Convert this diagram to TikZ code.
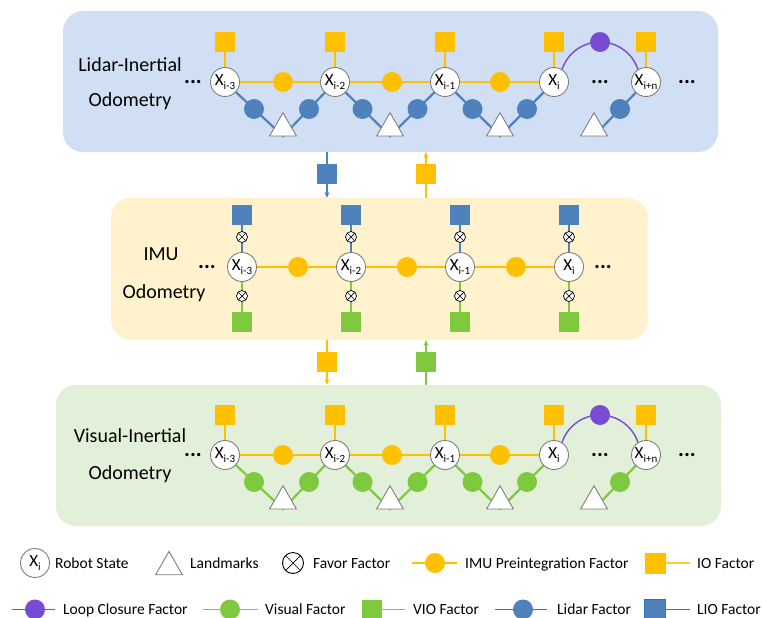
\documentclass[tikz,border=0pt]{standalone}
\usepackage{fontspec}
\setmainfont{Carlito}
\usetikzlibrary{arrows.meta,shapes.geometric,calc}
\pgfdeclarelayer{panels}
\pgfdeclarelayer{edges}
\pgfsetlayers{panels,edges,main}

\definecolor{panelblue}{HTML}{D0DFF3}
\definecolor{panelyellow}{HTML}{FFF2CC}
\definecolor{panelgreen}{HTML}{E2F0D9}
\definecolor{imuyellow}{HTML}{FFC000}
\definecolor{lidarblue}{HTML}{4F81BD}
\definecolor{legendblue}{HTML}{2E75B6}
\definecolor{visualgreen}{HTML}{7FC93F}
\definecolor{loopviolet}{HTML}{774CD2}
\definecolor{stategray}{HTML}{7F7F7F}

% robot state label X_<index>
\newcommand\statelabel[1]{{\fontsize{17}{17}\selectfont X}\raisebox{-4pt}{\fontsize{11}{11}\selectfont #1}}

\begin{document}
\begin{tikzpicture}[x=1pt,y=-1pt,
  panel/.style={rectangle, rounded corners=20pt, inner sep=0pt, outer sep=0pt},
  state/.style={circle, draw=stategray, fill=white, line width=0.9pt, minimum size=29pt, inner sep=0pt},
  factor/.style={circle, minimum size=20pt, inner sep=0pt},
  sqfactor/.style={rectangle, minimum size=20pt, inner sep=0pt},
  imu/.style={factor, fill=imuyellow},
  io/.style={sqfactor, fill=imuyellow},
  lio/.style={sqfactor, fill=lidarblue},
  vio/.style={sqfactor, fill=visualgreen},
  loopf/.style={factor, fill=loopviolet},
  landmark/.style={regular polygon, regular polygon sides=3, draw=stategray, fill=white, line width=0.9pt, minimum size=31pt, inner sep=0pt},
  favor/.style={circle, draw=black, fill=white, line width=0.7pt, minimum size=11pt, inner sep=0pt,
    path picture={\draw[line width=0.7pt] (path picture bounding box.north west) -- (path picture bounding box.south east)
      (path picture bounding box.north east) -- (path picture bounding box.south west);}},
  edge/.style={line width=2.2pt},
  loopline/.style={line width=1.4pt, loopviolet},
  legline/.style={line width=1.8pt},
  flow/.style={line width=1.3pt, -{Stealth[length=6pt,width=5pt]}},
  dots/.style={font=\fontsize{22}{22}\selectfont\bfseries, inner sep=0pt},
  lbl/.style={font=\fontsize{20}{24}\selectfont, inner sep=0pt},
  leg/.style={font=\fontsize{15.5}{18}\selectfont, anchor=base west, inner sep=0pt}]
\useasboundingbox (0,0) rectangle (763,618);

% ---------- background panels ----------
\begin{pgfonlayer}{panels}
  \node[panel, fill=panelblue, minimum width=655pt, minimum height=141pt] (LIO) at (390.5,81.5) {};
  \node[panel, fill=panelyellow, minimum width=537pt, minimum height=142pt] (IMU) at (379.5,269) {};
  \node[panel, fill=panelgreen, minimum width=665pt, minimum height=141pt] (VIO) at (388.5,455.5) {};
\end{pgfonlayer}

% ---------- lidar-inertial and visual-inertial factor graphs ----------
\foreach \p/\dy/\fc in {L/0/lidarblue, V/373/visualgreen} {
  \node[state] (\p-x3) at (225,82+\dy) {\statelabel{i-3}};
  \node[state] (\p-x2) at (335,82+\dy) {\statelabel{i-2}};
  \node[state] (\p-x1) at (445,82+\dy) {\statelabel{i-1}};
  \node[state] (\p-x0) at (554,82+\dy) {\statelabel{i}};
  \node[state] (\p-xn) at (646,82+\dy) {\statelabel{i+n}};
  \foreach \k/\x in {3/225, 2/335, 1/445, 0/554, n/646}
    \node[io] (\p-q\k) at (\x,42+\dy) {};
  \node[imu] (\p-m1) at (283,82+\dy) {};
  \node[imu] (\p-m2) at (392,82+\dy) {};
  \node[imu] (\p-m3) at (500,82+\dy) {};
  \coordinate (\p-b1) at (283,136+\dy);
  \coordinate (\p-b2) at (390,136+\dy);
  \coordinate (\p-b3) at (500,136+\dy);
  \coordinate (\p-bn) at (594,136+\dy);
  \foreach \k/\x in {1/283, 2/390, 3/500, n/594}
    \node[landmark] (\p-t\k) at (\x,128.25+\dy) {};
  \node[factor, fill=\fc] (\p-f1) at ($(\p-x3)!.5!(\p-b1)$) {};
  \node[factor, fill=\fc] (\p-f2) at ($(\p-x2)!.5!(\p-b1)$) {};
  \node[factor, fill=\fc] (\p-f3) at ($(\p-x2)!.5!(\p-b2)$) {};
  \node[factor, fill=\fc] (\p-f4) at ($(\p-x1)!.5!(\p-b2)$) {};
  \node[factor, fill=\fc] (\p-f5) at ($(\p-x1)!.5!(\p-b3)$) {};
  \node[factor, fill=\fc] (\p-f6) at ($(\p-x0)!.5!(\p-b3)$) {};
  \node[factor, fill=\fc] (\p-f7) at ($(\p-xn)!.5!(\p-bn)$) {};
  \coordinate (\p-c) at (600,82+\dy);
  \node[loopf] (\p-lc) at (600,42+\dy) {};
  \node[dots] (\p-d1) at (193,82+\dy) {...};
  \node[dots] (\p-d2) at (600,82+\dy) {...};
  \node[dots] (\p-d3) at (687,82+\dy) {...};
  \begin{pgfonlayer}{edges}
    \draw[edge, imuyellow] (\p-x3.center) -- (\p-x0.center);
    \foreach \k in {3,2,1,0,n}
      \draw[edge, imuyellow] (\p-q\k) -- (\p-x\k);
    \draw[edge, \fc] (\p-x3.center) -- (\p-b1) -- (\p-x2.center) -- (\p-b2)
      -- (\p-x1.center) -- (\p-b3) -- (\p-x0.center);
    \draw[edge, \fc] (\p-xn.center) -- (\p-bn);
    \draw[loopline] ([shift={(196:40)}]\p-c) arc[start angle=196, end angle=344, radius=40];
  \end{pgfonlayer}
}
\node[lbl] (L-name1) at (130,65) {Lidar-Inertial};
\node[lbl] (L-name2) at (130,101.5) {Odometry};
\node[lbl] (V-name1) at (130,435.5) {Visual-Inertial};
\node[lbl] (V-name2) at (130,474) {Odometry};

% ---------- IMU odometry graph ----------
\foreach \k/\x/\s in {3/242/i-3, 2/351/i-2, 1/460/i-1, 0/569/i} {
  \node[state] (M-x\k) at (\x,267) {\statelabel{\s}};
  \node[lio] (M-l\k) at (\x,215) {};
  \node[favor] (M-u\k) at (\x,237) {};
  \node[favor] (M-d\k) at (\x,296) {};
  \node[vio] (M-v\k) at (\x,322) {};
  \begin{pgfonlayer}{edges}
    \draw[edge, lidarblue] (M-l\k) -- (M-x\k);
    \draw[edge, visualgreen] (M-x\k) -- (M-v\k);
  \end{pgfonlayer}
}
\node[imu] (M-m1) at (298,267) {};
\node[imu] (M-m2) at (407,267) {};
\node[imu] (M-m3) at (516,267) {};
\begin{pgfonlayer}{edges}
  \draw[edge, imuyellow] (M-x3.center) -- (M-x0.center);
\end{pgfonlayer}
\node[dots] (M-d1) at (207,267) {...};
\node[dots] (M-d2) at (603,267) {...};
\node[lbl] (M-name1) at (161,254) {IMU};
\node[lbl] (M-name2) at (164,293) {Odometry};

% ---------- exchange between the odometry modules ----------
\node[lio] (A-l) at (327,174) {};
\node[io] (A-i) at (426,174) {};
\node[io] (B-i) at (327,362) {};
\node[vio] (B-v) at (426,362) {};
\begin{pgfonlayer}{edges}
  \draw[flow, lidarblue] (LIO.south -| A-l) -- (IMU.north -| A-l);
  \draw[flow, imuyellow] (IMU.north -| A-i) -- (LIO.south -| A-i);
  \draw[flow, imuyellow] (IMU.south -| B-i) -- (VIO.north -| B-i);
  \draw[flow, visualgreen] (VIO.north -| B-v) -- (IMU.south -| B-v);
\end{pgfonlayer}

% ---------- legend, first row ----------
\node[state] (G-x) at (35,563) {\statelabel{i}};
\node[leg] (G-xt) at (55,568.5) {Robot State};
\node[landmark] (G-t) at (169,567) {};
\node[leg] (G-tt) at (190,568.5) {Landmarks};
\node[favor, minimum size=21pt, line width=0.9pt] (G-f) at (293,563) {};
\node[leg] (G-ft) at (313,568.5) {Favor Factor};
\coordinate (G-ia) at (412,563);
\coordinate (G-ib) at (457,563);
\draw[legline, imuyellow] (G-ia) -- (G-ib);
\node[imu] (G-i) at (435,563) {};
\node[leg] (G-it) at (465,568.5) {IMU Preintegration Factor};
\node[io, minimum size=21pt] (G-q) at (655,563) {};
\coordinate (G-qe) at (690,563);
\draw[legline, imuyellow!80] (G-q) -- (G-qe);
\node[leg] (G-qt) at (697,568.5) {IO Factor};

% ---------- legend, second row ----------
\coordinate (G-la) at (12,609.5);
\coordinate (G-lb) at (55,609.5);
\draw[legline, loopviolet] (G-la) -- (G-lb);
\node[loopf] (G-l) at (35,609.5) {};
\node[leg] (G-lt) at (63,614.3) {Loop Closure Factor};
\coordinate (G-va) at (203,609.5);
\coordinate (G-vb) at (258,609.5);
\draw[legline, visualgreen] (G-va) -- (G-vb);
\node[factor, fill=visualgreen] (G-v) at (230,609.5) {};
\node[leg] (G-vt) at (265,614.3) {Visual Factor};
\node[vio] (G-g) at (372,609.5) {};
\coordinate (G-ge) at (405,609.5);
\draw[legline, visualgreen] (G-g) -- (G-ge);
\node[leg] (G-gt) at (413,614.3) {VIO Factor};
\coordinate (G-da) at (495,609.5);
\coordinate (G-db) at (547,609.5);
\draw[legline, legendblue] (G-da) -- (G-db);
\node[factor, fill=lidarblue] (G-d) at (523,609.5) {};
\node[leg] (G-dt) at (557,614.3) {Lidar Factor};
\node[lio, minimum size=21pt, draw=legendblue, line width=0.8pt] (G-s) at (655,609.5) {};
\coordinate (G-se) at (690,609.5);
\draw[legline, legendblue] (G-s) -- (G-se);
\node[leg] (G-st) at (697,614.3) {LIO Factor};
\end{tikzpicture}
\end{document}
